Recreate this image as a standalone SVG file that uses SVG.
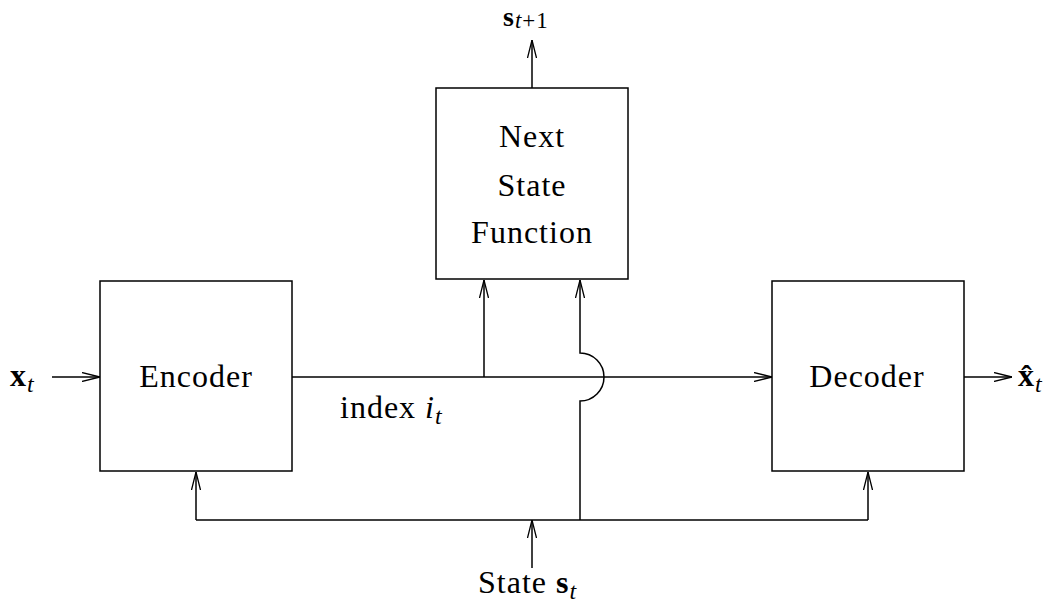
<svg xmlns="http://www.w3.org/2000/svg" width="1056" height="608" viewBox="0 0 1056 608">
  <style>
    .box { fill: #fff; stroke: #000; stroke-width: 1.5; }
    .wire { fill: none; stroke: #000; stroke-width: 1.5; }
    .lbl { font-family: "Liberation Serif", "DejaVu Serif", serif; font-size: 32px; fill: #000; letter-spacing: 1px; }
    .top { font-size: 28px; }
    .bold { font-weight: bold; }
    .it { font-style: italic; }
    .sub { font-size: 24px; }
    .top .sub { font-size: 23px; }
  </style>
  <defs>
    <marker id="arr" viewBox="0 0 18 10" refX="18" refY="5" markerWidth="18" markerHeight="10" markerUnits="userSpaceOnUse" orient="auto">
      <path d="M0,0.5 L18,5 L0,9.5" fill="none" stroke="#000" stroke-width="1.3"/>
    </marker>
  </defs>

  <!-- connectors -->
  <g id="connectors" class="wire">
    <!-- input and output -->
    <line x1="52" y1="377" x2="100" y2="377" marker-end="url(#arr)"/>
    <line x1="964" y1="377" x2="1012" y2="377" marker-end="url(#arr)"/>
    <!-- index bus from encoder to decoder -->
    <line x1="292" y1="377" x2="772" y2="377" marker-end="url(#arr)"/>
    <!-- index into next-state function -->
    <line x1="484" y1="377" x2="484" y2="280" marker-end="url(#arr)"/>
    <!-- state into next-state function, hopping over the index bus -->
    <path d="M580,520 L580,401 A24,24 0 0 0 580,353 L580,280" marker-end="url(#arr)"/>
    <!-- next state output -->
    <line x1="532" y1="88" x2="532" y2="40" marker-end="url(#arr)"/>
    <!-- state distribution bus -->
    <polyline points="196,520 868,520"/>
    <line x1="196" y1="520" x2="196" y2="472" marker-end="url(#arr)"/>
    <line x1="868" y1="520" x2="868" y2="472" marker-end="url(#arr)"/>
    <line x1="532" y1="568" x2="532" y2="520" marker-end="url(#arr)"/>
  </g>

  <g id="encoder">
    <rect class="box" x="100" y="281" width="192" height="190"/>
    <text class="lbl" x="196" y="387" text-anchor="middle">Encoder</text>
  </g>

  <g id="decoder">
    <rect class="box" x="772" y="281" width="192" height="190"/>
    <text class="lbl" x="867" y="387" text-anchor="middle">Decoder</text>
  </g>

  <g id="next-state">
    <rect class="box" x="436" y="88" width="192" height="191"/>
    <text class="lbl" x="532" y="147" text-anchor="middle">Next</text>
    <text class="lbl" x="532" y="196" text-anchor="middle">State</text>
    <text class="lbl" x="532" y="243" text-anchor="middle">Function</text>
  </g>

  <g id="labels">
    <text class="lbl" x="10" y="386"><tspan class="bold">x</tspan><tspan class="it sub" dy="6">t</tspan></text>
    <text class="lbl" x="1018" y="386"><tspan class="bold">x̂</tspan><tspan class="it sub" dy="6">t</tspan></text>
    <text class="lbl top" x="503" y="26"><tspan class="bold">s</tspan><tspan class="sub" dy="2"><tspan class="it">t</tspan>+1</tspan></text>
    <text class="lbl" x="340" y="418">index <tspan class="it">i</tspan><tspan class="it sub" dy="6">t</tspan></text>
    <text class="lbl" x="478" y="593">State <tspan class="bold">s</tspan><tspan class="it sub" dy="6">t</tspan></text>
  </g>
</svg>
